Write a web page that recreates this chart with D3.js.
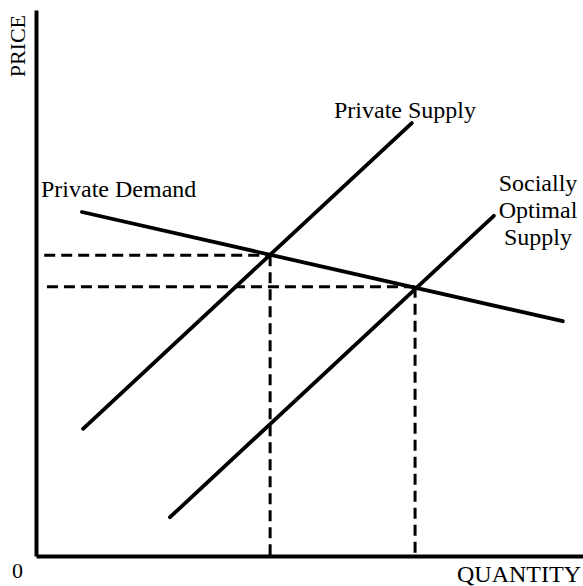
<!DOCTYPE html>
<html>
<head>
<meta charset="utf-8">
<script src="https://cdn.jsdelivr.net/npm/d3@7"></script>
<style>
  body { margin: 0; background: #fff; }
  text { font-family: "Liberation Serif", "Times New Roman", serif; fill: #000; }
</style>
</head>
<body>
<div id="chart"></div>
<script>
// curve end points, in quantity / price units (0-100)
var demand = [{q: 8.4, p: 63.0}, {q: 96.3, p: 43.0}];
var privateSupply = [{q: 8.6, p: 23.3}, {q: 68.7, p: 79.3}];
var socialSupply = [{q: 24.5, p: 7.1}, {q: 83.7, p: 62.3}];

// equilibrium points and where the dashed guides start
var equilibria = [{q: 42.8, p: 55.1, start: 1.5}, {q: 69.3, p: 49.3, start: 2.0}];

var axisLabels = ["PRICE", "QUANTITY", "0"];
var socialLabel = ["Socially", "Optimal", "Supply"];

var width = 583, height = 586;
var margin = {top: 10, right: 0, bottom: 30, left: 36};

var svg = d3.select("#chart")
  .append("svg")
    .attr("width", width)
    .attr("height", height);

var x = d3.scaleLinear()
  .domain([0, 100])
  .range([margin.left, width - margin.right]);

var y = d3.scaleLinear()
  .domain([0, 100])
  .range([height - margin.bottom, margin.top]);

// axes, no ticks
svg.append("g")
  .attr("transform", "translate(0," + y(0) + ")")
  .call(d3.axisBottom(x).ticks(0).tickSizeOuter(0));
svg.append("g")
  .attr("transform", "translate(" + x(0) + ",0)")
  .call(d3.axisLeft(y).ticks(0).tickSizeOuter(0));
svg.selectAll(".domain")
  .attr("stroke", "#000")
  .attr("stroke-width", 4);

var line = d3.line()
  .x(function(d) { return x(d.q); })
  .y(function(d) { return y(d.p); });

// dashed guides
equilibria.forEach(function(e) {
  svg.append("path")
    .attr("d", line([{q: e.start, p: e.p}, {q: e.q, p: e.p}]))
    .attr("stroke", "#000")
    .attr("stroke-width", 3)
    .attr("stroke-dasharray", "11,6")
    .attr("fill", "none");
  svg.append("path")
    .attr("d", line([{q: e.q, p: e.p}, {q: e.q, p: 0}]))
    .attr("stroke", "#000")
    .attr("stroke-width", 3)
    .attr("stroke-dasharray", "11,6")
    .attr("fill", "none");
});

// curves
[demand, privateSupply, socialSupply].forEach(function(c) {
  svg.append("path")
    .attr("d", line(c))
    .attr("stroke", "#000")
    .attr("stroke-width", 3.8)
    .attr("stroke-linecap", "round")
    .attr("fill", "none");
});

var fs = 24;

// axis labels
svg.append("text")
  .attr("transform", "translate(25,15)rotate(-90)")
  .attr("text-anchor", "end")
  .attr("font-size", 22)
  .text(axisLabels[0]);

svg.append("text")
  .attr("x", 581)
  .attr("y", 582)
  .attr("text-anchor", "end")
  .attr("font-size", 24)
  .text(axisLabels[1]);

svg.append("text")
  .attr("x", 12)
  .attr("y", 578)
  .attr("font-size", 22)
  .text(axisLabels[2]);

// curve labels
svg.append("text")
  .attr("x", 41)
  .attr("y", 197)
  .attr("font-size", fs)
  .text("Private Demand");

svg.append("text")
  .attr("x", 334)
  .attr("y", 118)
  .attr("font-size", fs)
  .text("Private Supply");

svg.append("text")
  .attr("font-size", fs)
  .attr("text-anchor", "middle")
  .selectAll("tspan")
  .data(socialLabel)
  .join("tspan")
    .attr("x", 538)
    .attr("y", function(d, i) { return 191 + i * 27; })
    .text(function(d) { return d; });
</script>
</body>
</html>
